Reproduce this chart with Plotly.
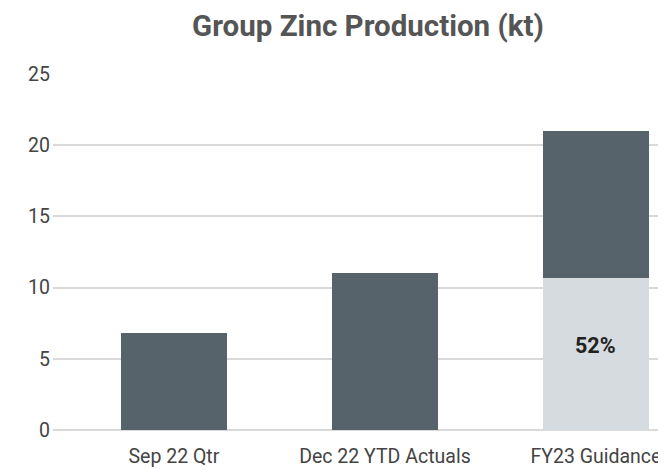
import plotly.graph_objects as go

categories = ["Sep 22 Qtr", "Dec 22 YTD Actuals", "FY23 Guidance"]
produced = [6.8, 11.0, 10.7]
remaining = [None, None, 10.3]
share_label = "52%"
y_ticks = [0, 5, 10, 15, 20, 25]

DARK = "#56636b"
LIGHT = "#d6dbdf"
FONT = "Roboto"

fig = go.Figure()
fig.add_trace(go.Bar(
    x=categories, y=produced,
    marker=dict(color=[DARK, DARK, LIGHT], line=dict(width=0)),
    hoverinfo="skip",
))
fig.add_trace(go.Bar(
    x=categories, y=remaining,
    marker=dict(color=DARK, line=dict(width=0)),
    hoverinfo="skip",
))
fig.add_annotation(
    x=categories[2], y=produced[2] / 2, yshift=8,
    text="<b>" + share_label + "</b>", showarrow=False,
    font=dict(family=FONT, size=21.5, color="#222222"),
)

# page body has an 8px margin, so the figure is sized to fit the 666x470 window
fig.update_layout(
    width=658, height=462,
    barmode="stack", bargap=0.5,
    showlegend=False,
    plot_bgcolor="white", paper_bgcolor="white",
    margin=dict(l=45, r=0, t=66, b=40, autoexpand=False),
    title=dict(text="<b>Group Zinc Production (kt)</b>", x=(368 - 8) / 658, xanchor="center",
               y=1 - 18 / 462, yanchor="middle",
               font=dict(family=FONT, size=29.5, color="#555555")),
    font=dict(family=FONT, size=19, color="#444444"),
)
fig.update_xaxes(range=[-0.573, 2.332], showgrid=False, showline=False, ticks="",
                 ticklabelstandoff=12,
                 tickfont=dict(family=FONT, size=19.5, color="#444444"))
fig.update_yaxes(range=[0, 25], tickvals=y_ticks, showgrid=True, gridcolor="#d9d9d9",
                 gridwidth=2, zeroline=True, zerolinecolor="#d9d9d9", zerolinewidth=2,
                 showline=False, ticks="", ticklabelstandoff=2,
                 tickfont=dict(family=FONT, size=19.5, color="#444444"))

fig.write_html("out.html")
